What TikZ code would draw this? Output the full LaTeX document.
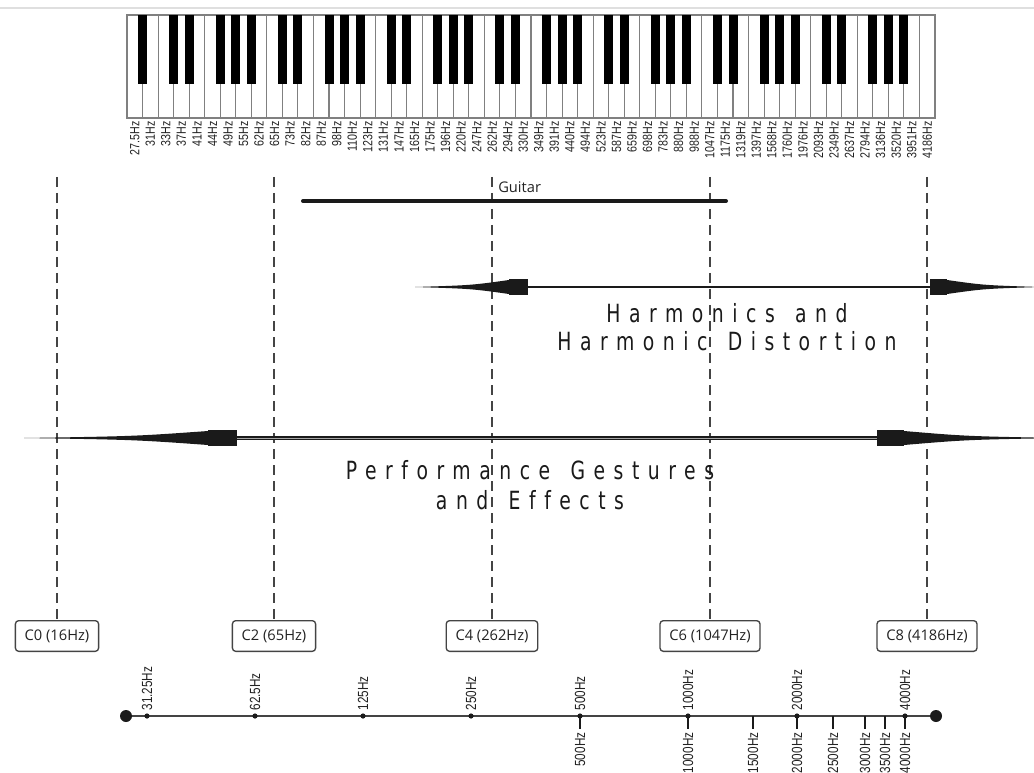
\documentclass[tikz,border=0pt]{standalone}
\usepackage{fontspec}
\setmainfont{Liberation Sans}
\newfontfamily\boxfont{Open Sans}
\newfontfamily\keyfont[FakeStretch=0.8]{Liberation Sans}
\newfontfamily\bandfont[FakeStretch=0.75,LetterSpace=34,WordSpace=1.4,Ligatures=NoCommon]{DejaVu Sans}
\usetikzlibrary{positioning}

\begin{document}
\begin{tikzpicture}[
    x=0.75pt, y=-0.75pt,
    whitekey/.style={draw=keygray, fill=white, line width=0.8pt},
    blackkey/.style={fill=black},
    keylabel/.style={font=\keyfont\fontsize{10}{11}\selectfont, text=textgray, rotate=90, anchor=east, inner sep=0pt},
    octbox/.style={draw=boxedge, fill=white, rounded corners=2.5pt, line width=1pt,
      font=\boxfont\fontsize{11}{13}\selectfont, text=textgray, inner xsep=7pt, minimum height=23pt},
    guide/.style={draw=boxedge, line width=1.1pt, dash pattern=on 7.5pt off 4.5pt},
    bandtext/.style={font=\bandfont\fontsize{18.8}{21.5}\selectfont, text=bandink, align=center},
    axlabel/.style={font=\keyfont\fontsize{11}{12}\selectfont, text=textgray, rotate=90, inner sep=1pt},
  ]
    \definecolor{textgray}{HTML}{222222}
    \definecolor{boxedge}{HTML}{444444}
    \definecolor{keygray}{HTML}{808080}
    \definecolor{bandink}{HTML}{1a1a1a}
    \pgfmathsetmacro{\kx}{127}
    \pgfmathsetmacro{\kw}{808/52}

    % one tapered head plus its block, #1 tip x, #2 head end x, #3 block end x, #4 y, #5 half width
    \newcommand{\bandhead}[5]{%
      \fill[bandink] (#1,#4) .. controls ({#1+0.6*(#2-#1)},{#4-0.25*#5}) .. (#2,{#4-#5})
        -- (#2,{#4+#5}) .. controls ({#1+0.6*(#2-#1)},{#4+0.25*#5}) .. cycle;
      \fill[bandink] (#2,{#4-#5-1}) rectangle (#3,{#4+#5+1});
    }

    \useasboundingbox (0,0) rectangle (1034,773);
    \clip (0,0) rectangle (1034,773);
    \draw[gray!25, line width=1.5pt] (0,8) -- (1034,8);

    % -------- keyboard --------
    \foreach \i in {0,...,51} {
      \draw[whitekey] (\kx+\i*\kw,15) rectangle ++(\kw,103);
    }
    % black keys sit on the white key boundaries
    \fill[blackkey] (\kx+1*\kw-4.5,15) rectangle ++(9,69);
    \foreach \oct in {0,...,6} {
      \foreach \b in {3,4,6,7,8} {
        \fill[blackkey] (\kx+\b*\kw+\oct*7*\kw-4.5,15) rectangle ++(9,69);
      }
    }
    \foreach \freq [count=\i from 0] in {27.5,31,33,37,41,44,49,55,62,65,73,82,87,98,110,123,131,147,165,175,196,220,247,262,294,330,349,391,440,494,523,587,659,698,783,880,988,1047,1175,1319,1397,1568,1760,1976,2093,2349,2637,2794,3136,3520,3951,4186} {
      \node[keylabel] (f\i) at (\kx+\i*\kw+0.5*\kw,121) {\freq Hz};
    }

    % -------- octave guides --------
    \foreach \n/\x/\hz in {0/57/16, 2/274/65, 4/492/262, 6/710/1047, 8/927/4186} {
      \coordinate (top\n) at (\x,177);
      \node[octbox] (c\n) at (\x,636) {C\n\ (\hz Hz)};
      \draw[guide] (top\n) -- (c\n.north);
    }

    % -------- guitar range --------
    \coordinate (gtL) at (303,201);
    \coordinate (gtR) at (726,201);
    \draw[bandink, line width=3pt, line cap=round] (gtL) -- (gtR);
    \node[font=\boxfont\fontsize{11}{13}\selectfont, text=textgray, anchor=base west, inner sep=0pt] (guitar) at (498,193) {Guitar};

    % -------- harmonics band --------
    \coordinate (hmL) at (528,287);
    \coordinate (hmR) at (930,287);
    \draw[bandink, line width=2.2pt] (hmL) -- (hmR);
    \bandhead{415}{509}{528}{287}{7}
    \bandhead{1040}{947}{930}{287}{7}
    \node[bandtext] (harm) at (727,327) {Harmonics and\\Harmonic Distortion};

    % -------- performance band --------
    \coordinate (pfL) at (237,438);
    \coordinate (pfR) at (877,438);
    \draw[bandink, line width=3pt] (pfL) -- (pfR);
    \draw[gray!70, line width=0.6pt] (pfL) -- (pfR);
    \bandhead{24}{208}{237}{438}{7}
    \bandhead{1060}{904}{877}{438}{7}
    \node[bandtext, font=\bandfont\fontsize{18.8}{23}\selectfont] (perf) at (530,485) {Performance Gestures\\and Effects};

    % -------- octave band axis --------
    \coordinate (axL) at (126,716);
    \coordinate (axR) at (936,716);
    \draw[boxedge, line width=1.5pt] (axL) -- (axR);
    \fill[bandink] (axL) circle (6);
    \fill[bandink] (axR) circle (6);
    \foreach \x/\lab in {147/31.25, 255/62.5, 363/125, 471/250, 580/500, 688/1000, 797/2000, 905/4000} {
      \fill[bandink] (\x,716) circle (2.6);
      \node[axlabel, anchor=west] (up\lab) at (\x,712) {\lab Hz};
    }
    \foreach \x/\lab in {580/500, 688/1000, 753/1500, 797/2000, 833/2500, 865/3000, 885/3500, 905/4000} {
      \coordinate (tk\lab) at (\x,729);
      \draw[bandink, line width=1pt] (\x,716) -- (tk\lab);
      \node[axlabel, anchor=east] (dn\lab) at (\x,731) {\lab Hz};
    }
  \end{tikzpicture}
\end{document}
